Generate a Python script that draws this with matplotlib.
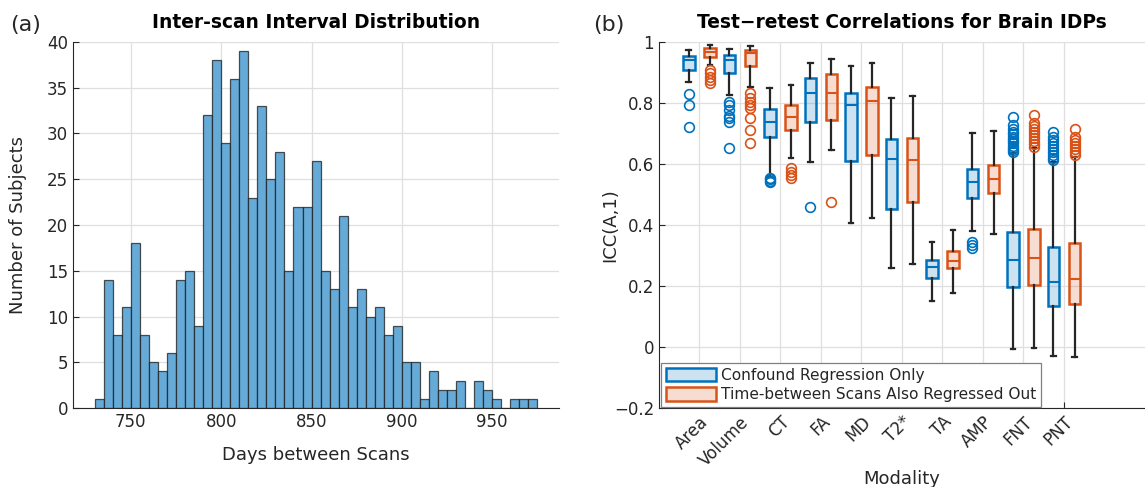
import matplotlib
matplotlib.use("Agg")
import matplotlib.pyplot as plt
from matplotlib.patches import Patch
import numpy as np

# ---- left panel: inter-scan interval histogram (5-day bins) ----
bin_start = 730
bin_width = 5
counts = [1, 14, 8, 11, 18, 8, 5, 4, 6, 14, 15, 9, 32, 38, 29, 36, 39, 23, 33, 25,
          28, 15, 22, 22, 27, 15, 13, 21, 11, 13, 10, 11, 8, 9, 5, 5, 1, 4, 2, 2,
          3, 0, 3, 2, 1, 0, 1, 1, 1]

# ---- right panel: ICC box summaries ----
modalities = ["Area", "Volume", "CT", "FA", "MD", "T2*", "TA", "AMP", "FNT", "PNT"]

blue_whislo = [0.87, 0.826, 0.558, 0.608, 0.405, 0.258, 0.151, 0.380, -0.006, -0.030]
blue_q1 = [0.908, 0.899, 0.690, 0.737, 0.610, 0.451, 0.227, 0.490, 0.198, 0.134]
blue_med = [0.941, 0.941, 0.737, 0.834, 0.793, 0.615, 0.261, 0.541, 0.285, 0.214]
blue_q3 = [0.955, 0.957, 0.780, 0.881, 0.832, 0.682, 0.285, 0.584, 0.376, 0.329]
blue_whishi = [0.974, 0.977, 0.848, 0.930, 0.921, 0.815, 0.345, 0.701, 0.635, 0.608]
blue_fliers = [
    [0.829, 0.792, 0.721],
    [0.804, 0.793, 0.777, 0.757, 0.750, 0.739, 0.651],
    [0.555, 0.550, 0.545, 0.540],
    [0.460],
    [],
    [],
    [],
    [0.345, 0.336, 0.324],
    [0.753, 0.728, 0.715, 0.705, 0.697, 0.690, 0.682, 0.675, 0.668, 0.660, 0.652, 0.645, 0.640],
    [0.704, 0.690, 0.680, 0.670, 0.660, 0.650, 0.640, 0.630, 0.620, 0.613],
]

orange_whislo = [0.925, 0.853, 0.619, 0.646, 0.422, 0.271, 0.176, 0.370, -0.002, -0.032]
orange_q1 = [0.952, 0.922, 0.711, 0.744, 0.630, 0.476, 0.258, 0.504, 0.203, 0.140]
orange_med = [0.967, 0.963, 0.755, 0.834, 0.808, 0.613, 0.282, 0.551, 0.293, 0.222]
orange_q3 = [0.981, 0.974, 0.794, 0.894, 0.851, 0.684, 0.315, 0.597, 0.387, 0.340]
orange_whishi = [0.989, 0.987, 0.859, 0.943, 0.932, 0.824, 0.384, 0.709, 0.651, 0.624]
orange_fliers = [
    [0.908, 0.897, 0.886, 0.875, 0.865],
    [0.834, 0.815, 0.804, 0.793, 0.783, 0.750, 0.711, 0.670],
    [0.586, 0.575, 0.565, 0.555],
    [0.476],
    [],
    [],
    [],
    [],
    [0.761, 0.735, 0.725, 0.715, 0.705, 0.695, 0.685, 0.675, 0.665, 0.657],
    [0.715, 0.690, 0.680, 0.670, 0.660, 0.650, 0.640, 0.630],
]

BLUE = "#0072BD"
ORANGE = "#D95319"
INK = "#262626"
GRID = "#DFDFDF"

plt.rcParams["font.family"] = "DejaVu Sans"


def style_axes(ax):
    for side in ("top", "right"):
        ax.spines[side].set_visible(False)
    for side in ("left", "bottom"):
        ax.spines[side].set_color(INK)
        ax.spines[side].set_linewidth(0.8)
    ax.tick_params(direction="in", length=4, width=0.8, color=INK,
                   labelcolor=INK, labelsize=12)
    ax.grid(True, color=GRID, linewidth=0.9)
    ax.set_axisbelow(True)


def make_stats(lo, q1, med, q3, hi, fliers):
    return [dict(whislo=a, q1=b, med=c, q3=d, whishi=e, fliers=f)
            for a, b, c, d, e, f in zip(lo, q1, med, q3, hi, fliers)]


def draw_boxes(ax, stats, positions, color):
    face = matplotlib.colors.to_rgba(color, 0.2)
    ax.bxp(stats, positions=positions, widths=0.28, capwidths=0.12,
           patch_artist=True, showfliers=True, manage_ticks=False,
           boxprops=dict(facecolor=face, edgecolor=color, linewidth=1.8),
           medianprops=dict(color=color, linewidth=1.5),
           whiskerprops=dict(color=INK, linewidth=1.6),
           capprops=dict(color=INK, linewidth=1.6),
           flierprops=dict(marker="o", markerfacecolor="none",
                           markeredgecolor=color, markersize=7,
                           markeredgewidth=1.2))


fig = plt.figure(figsize=(11.45, 4.87), dpi=100)
ax1 = fig.add_axes([0.0638, 0.1622, 0.4245, 0.7516])
ax2 = fig.add_axes([0.5755, 0.1622, 0.4245, 0.7516])

# histogram
edges = bin_start + bin_width * np.arange(len(counts))
ax1.bar(edges, counts, width=bin_width, align="edge",
        color="#66AAD7", edgecolor=(0.1, 0.1, 0.1, 0.75), linewidth=0.9)
style_axes(ax1)
ax1.set_xlim(718, 987)
ax1.set_ylim(0, 40)
ax1.set_xticks([750, 800, 850, 900, 950])
ax1.set_yticks(np.arange(0, 41, 5))
ax1.set_xlabel("Days between Scans", fontsize=13, color=INK)
ax1.xaxis.set_label_coords(0.5, -0.105)
ax1.set_ylabel("Number of Subjects", fontsize=13, color=INK)
ax1.yaxis.set_label_coords(-0.095, 0.5)
ax1.set_title("Inter-scan Interval Distribution", fontsize=13.4,
              fontweight="bold", pad=10)

# ICC boxplots
pos = np.arange(1, len(modalities) + 1)
draw_boxes(ax2, make_stats(blue_whislo, blue_q1, blue_med, blue_q3,
                           blue_whishi, blue_fliers), pos - 0.26, BLUE)
draw_boxes(ax2, make_stats(orange_whislo, orange_q1, orange_med, orange_q3,
                           orange_whishi, orange_fliers), pos + 0.26, ORANGE)
style_axes(ax2)
ax2.set_xlim(0, 12)
ax2.set_ylim(-0.2, 1.0)
ax2.set_xticks(pos)
ax2.set_xticklabels(modalities, rotation=45, ha="right",
                    rotation_mode="anchor")
ax2.set_yticks([-0.2, 0, 0.2, 0.4, 0.6, 0.8, 1.0])
ax2.set_yticklabels(["\u22120.2", "0", "0.2", "0.4", "0.6", "0.8", "1"])
ax2.set_xlabel("Modality", fontsize=13, color=INK)
ax2.xaxis.set_label_coords(0.5, -0.168)
ax2.set_ylabel("ICC(A,1)", fontsize=13, color=INK)
ax2.yaxis.set_label_coords(-0.082, 0.5)
ax2.set_title("Test\u2212retest Correlations for Brain IDPs", fontsize=13.4,
              fontweight="bold", pad=10)

handles = [Patch(facecolor=matplotlib.colors.to_rgba(BLUE, 0.2),
                 edgecolor=BLUE, linewidth=1.8),
           Patch(facecolor=matplotlib.colors.to_rgba(ORANGE, 0.2),
                 edgecolor=ORANGE, linewidth=1.8)]
leg = ax2.legend(handles, ["Confound Regression Only",
                           "Time-between Scans Also Regressed Out"],
                 loc="lower left", bbox_to_anchor=(0.004, 0.003),
                 borderaxespad=0, fancybox=False, fontsize=11.1,
                 handlelength=3.3, handleheight=0.95, handletextpad=0.3,
                 labelspacing=0.3, borderpad=0.3, framealpha=1)
leg.get_frame().set_edgecolor("#808080")
leg.get_frame().set_linewidth(0.9)
for t in leg.get_texts():
    t.set_color(INK)

fig.text(0.009, 0.949, "(a)", fontsize=16, va="center", ha="left", color=INK)
fig.text(0.518, 0.949, "(b)", fontsize=16, va="center", ha="left", color=INK)

fig.savefig("out.png", dpi=100)
